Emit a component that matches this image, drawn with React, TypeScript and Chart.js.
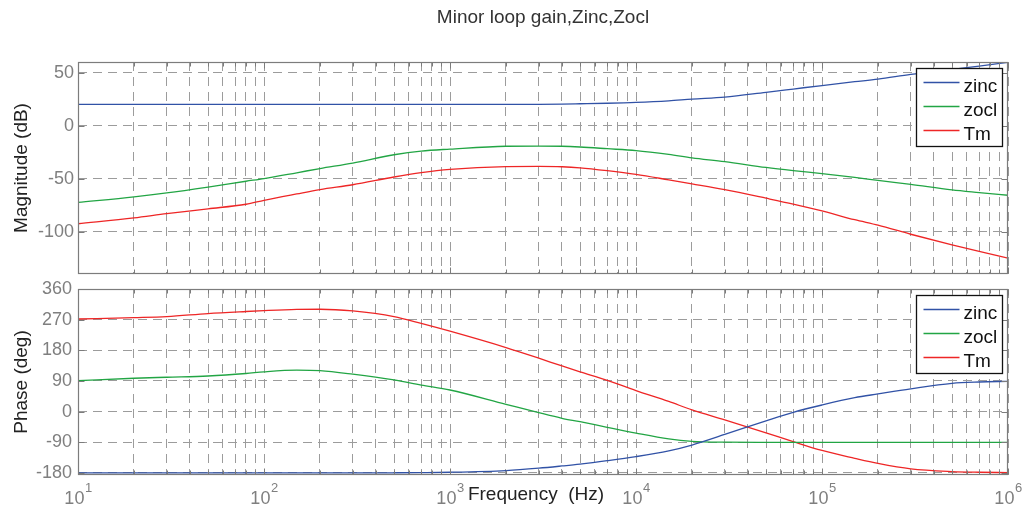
import React, { useEffect, useRef } from 'react';
import { Chart, registerables } from 'chart.js';

Chart.register(...registerables);

const FONT = "'Liberation Sans', Arial, Helvetica, sans-serif";

// ---- data ----
const freqHz = [10, 20, 30, 50, 80, 100, 150, 200, 300, 500, 700, 1000, 2000, 3000, 4000, 5000, 7000, 10000, 15000, 20000, 30000, 50000, 70000, 100000, 150000, 200000, 300000, 500000, 700000, 1000000];

const zincMag = [20, 20, 20, 20, 20, 20, 20, 20, 20, 20, 20, 20, 20, 20.1, 20.3, 20.6, 21.1, 21.9, 23.4, 25, 26.8, 31.4, 34.5, 37.8, 41.4, 43.9, 48.3, 53, 56.2, 59.6];
const zoclMag = [-72.5, -67.2, -63.5, -58, -52.5, -50, -44.5, -40.5, -35.3, -27.5, -24, -22.2, -19.5, -19.3, -19.5, -20.2, -21.8, -23.6, -27.2, -30.4, -34, -39.5, -42.5, -45.3, -48.8, -51.7, -55.5, -60.7, -63.2, -65.7];
const tmMag = [-92.6, -87, -83, -78.5, -74.2, -70.5, -64.5, -60.4, -55.8, -48.5, -44.4, -41.3, -38.7, -38.5, -38.8, -39.8, -42.5, -46, -51.2, -55, -60.5, -68.5, -74, -80.5, -88.8, -94, -102.5, -112.5, -118.7, -125];

const zincPhase = [-180, -180, -180, -180, -180, -180, -180, -180, -180, -179.5, -179, -178, -173, -166, -159.5, -154, -144, -132, -115, -98, -67, -27, -2, 19.5, 41, 52, 67, 83, 87, 89];
const zoclPhase = [91, 98, 101, 104.6, 112, 117, 122, 120.5, 110, 93, 78, 63.5, 21.5, -3, -19.5, -29.5, -46, -63, -80, -87, -89.5, -90, -90, -90, -90, -90, -90, -90, -90, -90];
const tmPhase = [272, 276, 279, 288, 294, 296.5, 300, 300.5, 295.5, 279, 259, 236, 188, 157, 134, 117, 92, 62, 30, 5, -24, -62, -88, -114, -137, -152, -168, -176, -178, -179];

const seriesNames = ['zinc', 'zocl', 'Tm'];
const seriesColors = ['#3152a6', '#22a544', '#ee2626'];

const magTicks = [-100, -50, 0, 50];
const phaseTicks = [-180, -90, 0, 90, 180, 270, 360];
const decadeTicks = [10, 100, 1000, 10000, 100000, 1000000];
const decadeExponents = ['1', '2', '3', '4', '5', '6'];
const minorMultipliers = [1, 2, 3, 4, 5, 6, 7, 8, 9];

const titleText = 'Minor loop gain,Zinc,Zocl';
const magLabel = 'Magnitude (dB)';
const phaseLabel = 'Phase (deg)';
const freqLabel = 'Frequency  (Hz)';

// ---- styling ----
const GRID_COLOR = '#9c9c9c';
const FRAME_COLOR = '#7c7c7c';
const TICK_COLOR = '#7f7f7f';
const TEXT_COLOR = '#222222';
const GRID_DASH = [9, 6];

function buildXTicks() {
  const out: { value: number }[] = [];
  for (let i = 0; i < decadeTicks.length - 1; i++) {
    for (const m of minorMultipliers) out.push({ value: decadeTicks[i] * m });
  }
  out.push({ value: decadeTicks[decadeTicks.length - 1] });
  return out;
}

function makeDatasets(values: number[][]) {
  return values.map((vals, i) => ({
    label: seriesNames[i],
    data: freqHz.map((f, j) => ({ x: f, y: vals[j] })),
    borderColor: seriesColors[i],
    backgroundColor: seriesColors[i],
    borderWidth: 1.3,
    pointRadius: 0,
    fill: false,
    cubicInterpolationMode: 'monotone' as const,
  }));
}

const framePlugin = {
  id: 'matlabFrame',
  afterDatasetsDraw(chart: any) {
    const { ctx, chartArea: a, scales } = chart;
    ctx.save();
    ctx.setLineDash([]);
    ctx.strokeStyle = FRAME_COLOR;
    ctx.lineWidth = 1;
    const L = Math.round(a.left) + 0.5;
    const R = Math.round(a.right) - 0.5;
    const T = Math.round(a.top) + 0.5;
    const B = Math.round(a.bottom) - 0.5;
    ctx.beginPath();
    for (const t of scales.x.ticks) {
      const px = Math.round(scales.x.getPixelForValue(t.value)) + 0.5;
      const len = decadeTicks.includes(t.value) ? 6 : 4;
      ctx.moveTo(px, T); ctx.lineTo(px, T + len);
      ctx.moveTo(px, B); ctx.lineTo(px, B - len);
    }
    for (const t of scales.y.ticks) {
      const py = Math.round(scales.y.getPixelForValue(t.value)) + 0.5;
      ctx.moveTo(L, py); ctx.lineTo(L + 6, py);
      ctx.moveTo(R, py); ctx.lineTo(R - 6, py);
    }
    ctx.stroke();
    ctx.lineWidth = 1.2;
    ctx.strokeRect(L, T, R - L, B - T);

    // legend box (top-right, inside the axes)
    const w = 86, h = 78;
    const lx = Math.round(a.right) - 6 - w + 0.5;
    const ly = Math.round(a.top) + 6 + 0.5;
    ctx.fillStyle = '#ffffff';
    ctx.fillRect(lx, ly, w, h);
    ctx.strokeStyle = '#111111';
    ctx.lineWidth = 1.3;
    ctx.strokeRect(lx, ly, w, h);
    ctx.font = `19px ${FONT}`;
    ctx.textAlign = 'left';
    ctx.textBaseline = 'alphabetic';
    chart.data.datasets.forEach((ds: any, i: number) => {
      const ry = ly + 14 + i * 24;
      ctx.strokeStyle = ds.borderColor;
      ctx.lineWidth = 1.6;
      ctx.beginPath();
      ctx.moveTo(lx + 7, ry);
      ctx.lineTo(lx + 43, ry);
      ctx.stroke();
      ctx.fillStyle = '#111111';
      ctx.fillText(ds.label, lx + 47, ry + 9);
    });
    ctx.restore();
  },
};

const xLabelPlugin = {
  id: 'decadeLabels',
  afterDraw(chart: any) {
    const { ctx, scales, chartArea: a } = chart;
    ctx.save();
    ctx.fillStyle = TICK_COLOR;
    ctx.textAlign = 'left';
    ctx.textBaseline = 'alphabetic';
    const baseY = a.bottom + 29;
    decadeTicks.forEach((v, i) => {
      const px = scales.x.getPixelForValue(v);
      ctx.font = `18px ${FONT}`;
      const w1 = ctx.measureText('10').width;
      ctx.font = `13px ${FONT}`;
      const w2 = ctx.measureText(decadeExponents[i]).width;
      const start = px - (w1 + w2) / 2;
      ctx.font = `18px ${FONT}`;
      ctx.fillText('10', start, baseY);
      ctx.font = `13px ${FONT}`;
      ctx.fillText(decadeExponents[i], start + w1 + 0.5, baseY - 12);
    });
    ctx.fillStyle = TEXT_COLOR;
    ctx.font = `19px ${FONT}`;
    ctx.textAlign = 'center';
    ctx.fillText(freqLabel, 536, a.bottom + 24.5);
    ctx.restore();
  },
};

function xScale() {
  return {
    type: 'logarithmic' as const,
    min: 10,
    max: 1000000,
    afterBuildTicks: (s: any) => { s.ticks = buildXTicks(); },
    ticks: { display: false },
    grid: { color: GRID_COLOR, lineWidth: 1, drawTicks: false },
    border: { display: false, dash: GRID_DASH },
  };
}

function yScale(min: number, max: number, ticks: number[], label: string, pad: number) {
  return {
    type: 'linear' as const,
    min,
    max,
    afterBuildTicks: (s: any) => { s.ticks = ticks.map((v) => ({ value: v })); },
    afterFit: (s: any) => { s.width = 78; },
    ticks: { color: TICK_COLOR, font: { size: 18, family: FONT }, padding: pad },
    grid: { color: GRID_COLOR, lineWidth: 1, drawTicks: false },
    border: { display: false, dash: GRID_DASH },
    title: { display: true, text: label, color: TEXT_COLOR, font: { size: 19, family: FONT }, padding: { top: 10, bottom: 0 } },
  };
}

export default function App() {
  const magRef = useRef<HTMLCanvasElement>(null);
  const phaseRef = useRef<HTMLCanvasElement>(null);

  useEffect(() => {
    Chart.defaults.font.family = FONT;
    const xTop: any = xScale();
    xTop.afterFit = (s: any) => { s.height = 16; };
    const magChart = new Chart(magRef.current as HTMLCanvasElement, {
      type: 'line',
      data: { datasets: makeDatasets([zincMag, zoclMag, tmMag]) as any },
      options: {
        responsive: false,
        animation: false,
        devicePixelRatio: 1,
        layout: { padding: { left: 0, right: 17, top: 0, bottom: 0 } },
        plugins: {
          legend: { display: false },
          tooltip: { enabled: false },
          title: {
            display: true,
            text: titleText,
            fullSize: false,
            color: '#333333',
            font: { size: 19, family: FONT, weight: 'normal' },
            padding: { top: 6, bottom: 33.2 },
          },
        },
        scales: {
          x: xTop,
          y: yScale(-140, 60, magTicks, magLabel, 4) as any,
        },
      },
      plugins: [framePlugin],
    });

    const xBottom: any = xScale();
    xBottom.afterFit = (s: any) => { s.height = 39; };
    const phaseChart = new Chart(phaseRef.current as HTMLCanvasElement, {
      type: 'line',
      data: { datasets: makeDatasets([zincPhase, zoclPhase, tmPhase]) as any },
      options: {
        responsive: false,
        animation: false,
        devicePixelRatio: 1,
        layout: { padding: { left: 0, right: 17, top: 19, bottom: 0 } },
        plugins: {
          legend: { display: false },
          tooltip: { enabled: false },
          title: { display: false },
        },
        scales: {
          x: xBottom,
          y: yScale(-186, 360, phaseTicks, phaseLabel, 6) as any,
        },
      },
      plugins: [framePlugin, xLabelPlugin],
    });

    return () => {
      magChart.destroy();
      phaseChart.destroy();
    };
  }, []);

  return (
    <div style={{ position: 'fixed', left: 0, top: 0, width: 1025, height: 514, background: '#ffffff', overflow: 'hidden' }}>
      <canvas ref={magRef} width={1025} height={290} style={{ position: 'absolute', left: 0, top: 0, width: 1025, height: 290 }} />
      <canvas ref={phaseRef} width={1025} height={244} style={{ position: 'absolute', left: 0, top: 270, width: 1025, height: 244 }} />
    </div>
  );
}
